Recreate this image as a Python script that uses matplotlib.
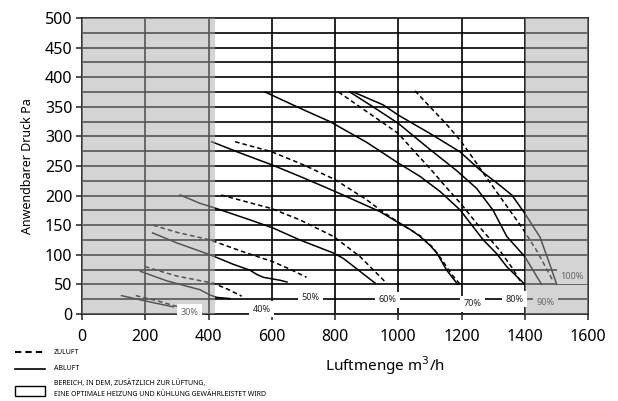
import matplotlib
matplotlib.use("Agg")
import matplotlib.pyplot as plt
from matplotlib.lines import Line2D
from matplotlib.patches import Rectangle

plt.rcParams['font.family'] = ['Noto Sans', 'DejaVu Sans']

# Abluft (durchgezogen) und Zuluft (gestrichelt) je Lüfterstufe
ab30_x = [125, 200, 289]
ab30_y = [31, 22, 12]
zu30_x = [170, 240, 305]
zu30_y = [31, 22, 12]

ab40_x = [185, 268, 373, 405, 426, 468]
ab40_y = [72, 56, 41, 32, 28, 26]
zu40_x = [199, 300, 415, 460, 505]
zu40_y = [80, 64, 52, 42, 30]

ab50_x = [223, 300, 405, 478, 531, 552, 573, 626, 648]
ab50_y = [137, 120, 100, 84, 74, 67, 62, 57, 54]
zu50_x = [225, 300, 405, 510, 605, 660, 710]
zu50_y = [150, 138, 125, 105, 88, 75, 62]

ab60_x = [310, 373, 426, 531, 605, 689, 795, 826, 879, 927]
ab60_y = [201, 187, 178, 159, 145, 125, 103, 94, 72, 52]
zu60_x = [440, 600, 689, 795, 879, 963]
zu60_y = [201, 178, 159, 131, 97, 52]

ab70_x = [410, 500, 600, 700, 800, 900, 942, 995, 1040, 1069, 1100, 1122, 1153, 1188]
ab70_y = [291, 272, 252, 230, 207, 183, 173, 156, 142, 131, 116, 103, 74, 50]
zu70_x = [484, 600, 700, 800, 900, 942, 1000, 1069, 1110, 1140, 1170, 1196]
zu70_y = [291, 274, 252, 227, 193, 176, 155, 132, 112, 90, 66, 50]

ab80_x = [579, 700, 784, 900, 1000, 1070, 1132, 1195, 1269, 1311, 1343, 1400]
ab80_y = [375, 345, 325, 290, 255, 232, 207, 176, 125, 102, 80, 50]
zu80_x = [811, 900, 1000, 1050, 1100, 1150, 1200, 1260, 1320, 1360, 1390]
zu80_y = [375, 342, 305, 275, 246, 215, 185, 145, 108, 78, 52]

ab90_x = [847, 920, 1000, 1100, 1185, 1248, 1300, 1343, 1400, 1453]
ab90_y = [375, 350, 322, 278, 242, 212, 175, 131, 97, 50]

ab100_x = [858, 953, 1000, 1100, 1195, 1259, 1310, 1359, 1400, 1448, 1475, 1501]
ab100_y = [375, 353, 336, 305, 274, 243, 222, 201, 170, 130, 90, 50]
zu100_x = [1053, 1100, 1150, 1195, 1230, 1269, 1330, 1390, 1440, 1490]
zu100_y = [377, 350, 322, 294, 268, 238, 192, 147, 105, 55]

# Beschriftung der Stufen
stufen = ['30%', '40%', '50%', '60%', '70%', '80%', '90%', '100%']
stufen_x = [341, 569, 721, 965, 1236, 1369, 1467, 1549]
stufen_y = [3, 8, 28, 24, 17, 25, 19, 64]
stufen_grau = [True, False, False, False, False, False, True, True]

fig = plt.figure(figsize=(6.18, 4.01), dpi=100)
ax = fig.add_axes([0.1327, 0.2170, 0.8188, 0.7381])

for v in range(0, 500, 25):
    ax.axhline(v, color='black', lw=1.2, zorder=1)
for v in range(200, 1600, 200):
    ax.axvline(v, color='black', lw=1.2, zorder=1)

solid = [(ab30_x, ab30_y), (ab40_x, ab40_y), (ab50_x, ab50_y), (ab60_x, ab60_y),
         (ab70_x, ab70_y), (ab80_x, ab80_y), (ab90_x, ab90_y), (ab100_x, ab100_y)]
dashed = [(zu30_x, zu30_y), (zu40_x, zu40_y), (zu50_x, zu50_y), (zu60_x, zu60_y),
          (zu70_x, zu70_y), (zu80_x, zu80_y), (zu100_x, zu100_y)]
for xs, ys in solid:
    ax.plot(xs, ys, color='black', lw=1.1, zorder=2, solid_joinstyle='round')
for xs, ys in dashed:
    ax.plot(xs, ys, color='black', lw=1.1, ls=(0, (3, 2)), zorder=2)

# graue Bereiche (Linien darunter werden grau)
ax.axvspan(0, 422, color='#aaaaaa', alpha=0.5, lw=0, zorder=2.6)
ax.axvspan(1400, 1600, color='#aaaaaa', alpha=0.5, lw=0, zorder=2.6)

for s, x, y, g in zip(stufen, stufen_x, stufen_y, stufen_grau):
    if g and s != '30%':
        fc = '#d4d4d4'
    else:
        fc = 'white'
    ax.text(x, y, s, fontsize=6.5, color='#666666' if g else '#222222',
            ha='center', va='center', zorder=4,
            bbox=dict(facecolor=fc, edgecolor='none', pad=2.5))

ax.set_xlim(0, 1600)
ax.set_ylim(0, 500)
ax.set_xticks(range(0, 1601, 200))
ax.set_yticks(range(0, 501, 50))
ax.tick_params(labelsize=11.5, length=4, width=1.2, color='#333333', pad=3)
ax.tick_params(axis='x', pad=7)
for sp in ax.spines.values():
    sp.set_linewidth(1.3)
    sp.set_color('#222222')

ax.set_ylabel('Anwendbarer Druck Pa', fontsize=9, labelpad=8)
fig.text(0.623, 0.087, 'Luftmenge m$^3$/h', fontsize=11, ha='center', va='center')

# Legende unten links
fig.add_artist(Line2D([15 / 618, 45 / 618], [1 - 352 / 401] * 2, color='black',
                      lw=1.5, ls=(0, (3, 2))))
fig.text(54 / 618, 1 - 352 / 401, 'ZULUFT', fontsize=5, va='center')
fig.add_artist(Line2D([15 / 618, 45 / 618], [1 - 369 / 401] * 2, color='black', lw=1.2))
fig.text(54 / 618, 1 - 369 / 401, 'ABLUFT', fontsize=5, va='center')
fig.add_artist(Rectangle((15 / 618, 1 - 396 / 401), 30 / 618, 10 / 401,
                         transform=fig.transFigure, facecolor='white',
                         edgecolor='black', lw=1.0))
fig.text(54 / 618, 1 - 383 / 401, 'BEREICH, IN DEM, ZUSÄTZLICH ZUR LÜFTUNG,',
         fontsize=5, va='center')
fig.text(54 / 618, 1 - 394 / 401, 'EINE OPTIMALE HEIZUNG UND KÜHLUNG GEWÄHRLEISTET WIRD',
         fontsize=5, va='center')

fig.savefig('out.png', dpi=100)
